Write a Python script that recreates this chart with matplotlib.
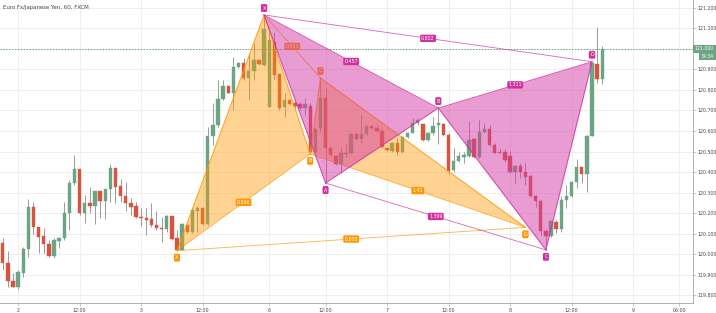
import matplotlib
matplotlib.use('Agg')
import matplotlib.pyplot as plt
from matplotlib.patches import Polygon

bar_index = list(range(1, 119))
opens = [120.055, 119.956, 119.868, 119.841, 119.909, 120.024, 120.229, 120.133, 120.088, 120.049,
         119.992, 120.065, 120.077, 120.199, 120.345, 120.413, 120.201, 120.247, 120.236, 120.309,
         120.259, 120.316, 120.418, 120.332, 120.284, 120.249, 120.236, 120.182, 120.177, 120.171,
         120.143, 120.127, 120.122, 120.187, 120.077, 120.020, 120.141, 120.106, 120.211, 120.226,
         120.146, 120.576, 120.628, 120.755, 120.820, 120.787, 120.911, 120.933, 120.857, 120.893,
         120.946, 120.922, 120.719, 121.036, 120.878, 120.719, 120.751, 120.737, 120.732, 120.711,
         120.722, 120.499, 120.613, 120.760, 120.516, 120.478, 120.439, 120.488, 120.491, 120.585,
         120.562, 120.585, 120.624, 120.613, 120.600, 120.516, 120.504, 120.540, 120.499, 120.569,
         120.592, 120.638, 120.634, 120.556, 120.589, 120.629, 120.634, 120.581, 120.410, 120.455,
         120.475, 120.478, 120.560, 120.472, 120.597, 120.608, 120.532, 120.498, 120.496, 120.480,
         120.401, 120.431, 120.401, 120.381, 120.283, 120.260, 120.112, 120.088, 120.158, 120.121,
         120.263, 120.283, 120.353, 120.426, 120.390, 120.577, 120.925, 120.854]
closes = [119.955, 119.868, 119.841, 119.912, 120.026, 120.229, 120.133, 120.084, 120.047, 119.992,
          120.068, 120.078, 120.200, 120.345, 120.413, 120.201, 120.247, 120.236, 120.309, 120.260,
          120.317, 120.418, 120.328, 120.284, 120.247, 120.231, 120.179, 120.176, 120.166, 120.141,
          120.125, 120.122, 120.187, 120.072, 120.020, 120.146, 120.106, 120.215, 120.226, 120.146,
          120.576, 120.629, 120.755, 120.820, 120.787, 120.911, 120.933, 120.857, 120.894, 120.946,
          120.925, 121.096, 121.044, 120.873, 120.714, 120.751, 120.732, 120.722, 120.712, 120.730,
          120.499, 120.608, 120.760, 120.516, 120.483, 120.439, 120.491, 120.494, 120.585, 120.561,
          120.585, 120.624, 120.616, 120.600, 120.520, 120.507, 120.540, 120.499, 120.569, 120.592,
          120.641, 120.654, 120.556, 120.589, 120.624, 120.638, 120.581, 120.406, 120.455, 120.478,
          120.483, 120.556, 120.472, 120.597, 120.608, 120.532, 120.494, 120.491, 120.459, 120.401,
          120.431, 120.401, 120.377, 120.283, 120.260, 120.114, 120.088, 120.162, 120.121, 120.263,
          120.283, 120.353, 120.426, 120.390, 120.576, 120.930, 120.854, 121.000]
highs = [120.078, 120.016, 119.906, 119.922, 120.036, 120.268, 120.255, 120.133, 120.125, 120.068,
         120.077, 120.084, 120.255, 120.361, 120.483, 120.413, 120.288, 120.325, 120.309, 120.309,
         120.319, 120.439, 120.418, 120.364, 120.353, 120.272, 120.255, 120.223, 120.223, 120.247,
         120.211, 120.179, 120.190, 120.187, 120.117, 120.150, 120.146, 120.223, 120.234, 120.231,
         120.618, 120.737, 120.849, 120.849, 120.820, 120.960, 120.938, 120.955, 120.979, 121.028,
         120.950, 121.166, 121.102, 121.084, 120.878, 120.784, 120.758, 120.746, 120.741, 120.761,
         120.737, 120.613, 120.859, 120.810, 120.520, 120.483, 120.523, 120.540, 120.589, 120.589,
         120.678, 120.628, 120.629, 120.633, 120.613, 120.522, 120.548, 120.564, 120.576, 120.597,
         120.662, 120.662, 120.634, 120.597, 120.667, 120.712, 120.638, 120.589, 120.516, 120.499,
         120.499, 120.650, 120.564, 120.654, 120.641, 120.629, 120.540, 120.516, 120.511, 120.504,
         120.434, 120.442, 120.444, 120.385, 120.288, 120.263, 120.117, 120.166, 120.166, 120.283,
         120.337, 120.358, 120.462, 120.426, 120.581, 120.938, 121.109, 121.016]
lows = [119.922, 119.841, 119.838, 119.829, 119.889, 119.987, 120.098, 120.003, 120.003, 119.987,
        119.982, 120.028, 120.068, 120.117, 120.337, 120.190, 120.153, 120.199, 120.146, 120.174,
        120.171, 120.255, 120.247, 120.255, 120.211, 120.190, 120.174, 120.138, 120.093, 120.133,
        120.117, 120.060, 120.109, 120.068, 120.016, 120.018, 120.102, 120.101, 120.109, 120.141,
        120.141, 120.532, 120.621, 120.751, 120.784, 120.702, 120.906, 120.849, 120.751, 120.849,
        120.922, 120.917, 120.717, 120.849, 120.702, 120.670, 120.727, 120.712, 120.702, 120.678,
        120.488, 120.494, 120.597, 120.346, 120.475, 120.434, 120.394, 120.475, 120.488, 120.556,
        120.540, 120.582, 120.612, 120.595, 120.516, 120.502, 120.499, 120.483, 120.491, 120.566,
        120.589, 120.629, 120.553, 120.553, 120.581, 120.537, 120.576, 120.390, 120.401, 120.450,
        120.442, 120.475, 120.467, 120.467, 120.589, 120.527, 120.491, 120.491, 120.450, 120.397,
        120.348, 120.369, 120.337, 120.277, 120.228, 120.093, 120.020, 120.081, 120.101, 120.109,
        120.224, 120.277, 120.321, 120.345, 120.304, 120.576, 120.833, 120.828]

# XABCD patterns (bar index, price)
point_names = ['X', 'A', 'B', 'C', 'D']
orange_idx = [35, 52, 61, 63, 103]
orange_price = [120.016, 121.166, 120.488, 120.859, 120.130]
orange_ratios = ['0.596', '0.553', '1.41', '0.805']
pink_idx = [52, 64, 86, 107, 116]
pink_price = [121.166, 120.346, 120.712, 120.020, 120.938]
pink_ratios = ['0.457', '1.399', '1.311', '0.802']

price_ticks = [119.8, 119.9, 120.0, 120.1, 120.2, 120.3, 120.4, 120.5, 120.6, 120.7,
               120.8, 120.9, 121.0, 121.1, 121.2]
time_tick_pos = [4, 16, 28, 40, 53, 64, 76, 88, 100, 112, 124, 133]
time_tick_labels = ['2', '12:00', '3', '12:00', '6', '12:00', '7', '12:00', '8', '12:00', '9', '06:00']
last_price = 121.000
countdown = '34:34'
title = 'Euro Fx/Japanese Yen, 60, FXCM'

UP = '#6BA583'
DOWN = '#D75442'
TXT = '#4a4a4a'

fig = plt.figure(figsize=(7.16, 3.13), dpi=100)
ax = fig.add_axes([0, 10/313, 693/716, 303/313])
ax.set_xlim(0.47, 135.7)
ax.set_ylim(119.761, 121.239)

# grid
for p in price_ticks:
    ax.axhline(p, color='#ececec', lw=0.6, zorder=0)
for t in time_tick_pos:
    ax.axvline(t, color='#ececec', lw=0.6, zorder=0)

# candles
for i, o, h, l, c in zip(bar_index, opens, highs, lows, closes):
    col = UP if c >= o else DOWN
    ax.vlines(i, l, h, color='#8a8a8a', lw=0.6, zorder=1)
    ax.bar(i, max(abs(c - o), 0.002), bottom=min(o, c), width=0.66, color=col,
           edgecolor=col, lw=0.3, zorder=2)

ax.axhline(last_price, color=UP, lw=0.7, ls=(0, (1.5, 1.5)), zorder=3)


def draw_pattern(idx, price, ratios, line_col, fill_col, alpha, letter_up, z):
    P = list(zip(idx, price))
    X, A, B, C, D = P
    ax.add_patch(Polygon([X, A, B], closed=True, fc=fill_col, alpha=alpha, ec='none', zorder=z))
    ax.add_patch(Polygon([B, C, D], closed=True, fc=fill_col, alpha=alpha, ec='none', zorder=z))
    for p1, p2 in [(X, A), (A, B), (B, C), (C, D)]:
        ax.plot([p1[0], p2[0]], [p1[1], p2[1]], color=line_col, lw=0.8, alpha=0.8, zorder=z + 0.1)
    for (p1, p2), r in zip([(X, B), (A, C), (B, D), (X, D)], ratios):
        ax.plot([p1[0], p2[0]], [p1[1], p2[1]], color=line_col, lw=0.6, alpha=0.75, zorder=z + 0.1)
        mx, my = (p1[0] + p2[0]) / 2, (p1[1] + p2[1]) / 2
        ax.text(mx, my, r, fontsize=3.4, color='white', ha='center', va='center', zorder=z + 0.3,
                bbox=dict(boxstyle='round,pad=0.25,rounding_size=0.3', fc=line_col, ec='none'))
    for (x, y), name, up in zip(P, point_names, letter_up):
        ax.annotate(name, (x, y), xytext=(0, 5 if up else -5), textcoords='offset points',
                    fontsize=3.4, color='white', ha='center', va='center', zorder=z + 0.4,
                    bbox=dict(boxstyle='round,pad=0.3,rounding_size=0.3', fc=line_col, ec='none'))


draw_pattern(orange_idx, orange_price, orange_ratios, '#FF9800', '#FF9800', 0.42,
             [False, True, False, True, False], 4)
draw_pattern(pink_idx, pink_price, pink_ratios, '#D030A0', '#D43AA5', 0.5,
             [True, False, True, False, True], 5)

# axes styling
for s in ['top', 'left']:
    ax.spines[s].set_visible(False)
for s in ['right', 'bottom']:
    ax.spines[s].set_color('#b0b0b0')
    ax.spines[s].set_linewidth(0.7)
ax.yaxis.tick_right()
ax.set_yticks(price_ticks)
# the last-price tag below shows the 121.000 label
ax.set_yticklabels(['' if abs(p - last_price) < 1e-9 else f'{p:.3f}' for p in price_ticks])
ax.set_xticks(time_tick_pos)
ax.set_xticklabels(time_tick_labels)
ax.tick_params(axis='both', labelsize=3.4, colors=TXT, length=2, width=0.5, pad=1.5)
ax.tick_params(axis='both', color='#b0b0b0')

right_x = 714 / 693
ax.annotate(f'{last_price:.3f}', (right_x, last_price), xycoords=('axes fraction', 'data'),
            xytext=(0, 0), textcoords='offset points', fontsize=3.3, color='white',
            ha='right', va='center', zorder=10, annotation_clip=False,
            bbox=dict(boxstyle='square,pad=0.35', fc=UP, ec='none'))
ax.annotate(countdown, (right_x, last_price), xycoords=('axes fraction', 'data'),
            xytext=(0, -5.2), textcoords='offset points', fontsize=3.3, color='white',
            ha='right', va='center', zorder=10, annotation_clip=False,
            bbox=dict(boxstyle='square,pad=0.35', fc=UP, ec='none'))

fig.text(3/716, 1 - 7/313, title, fontsize=3.9, color=TXT, ha='left', va='center')

fig.savefig('out.png', dpi=100)
